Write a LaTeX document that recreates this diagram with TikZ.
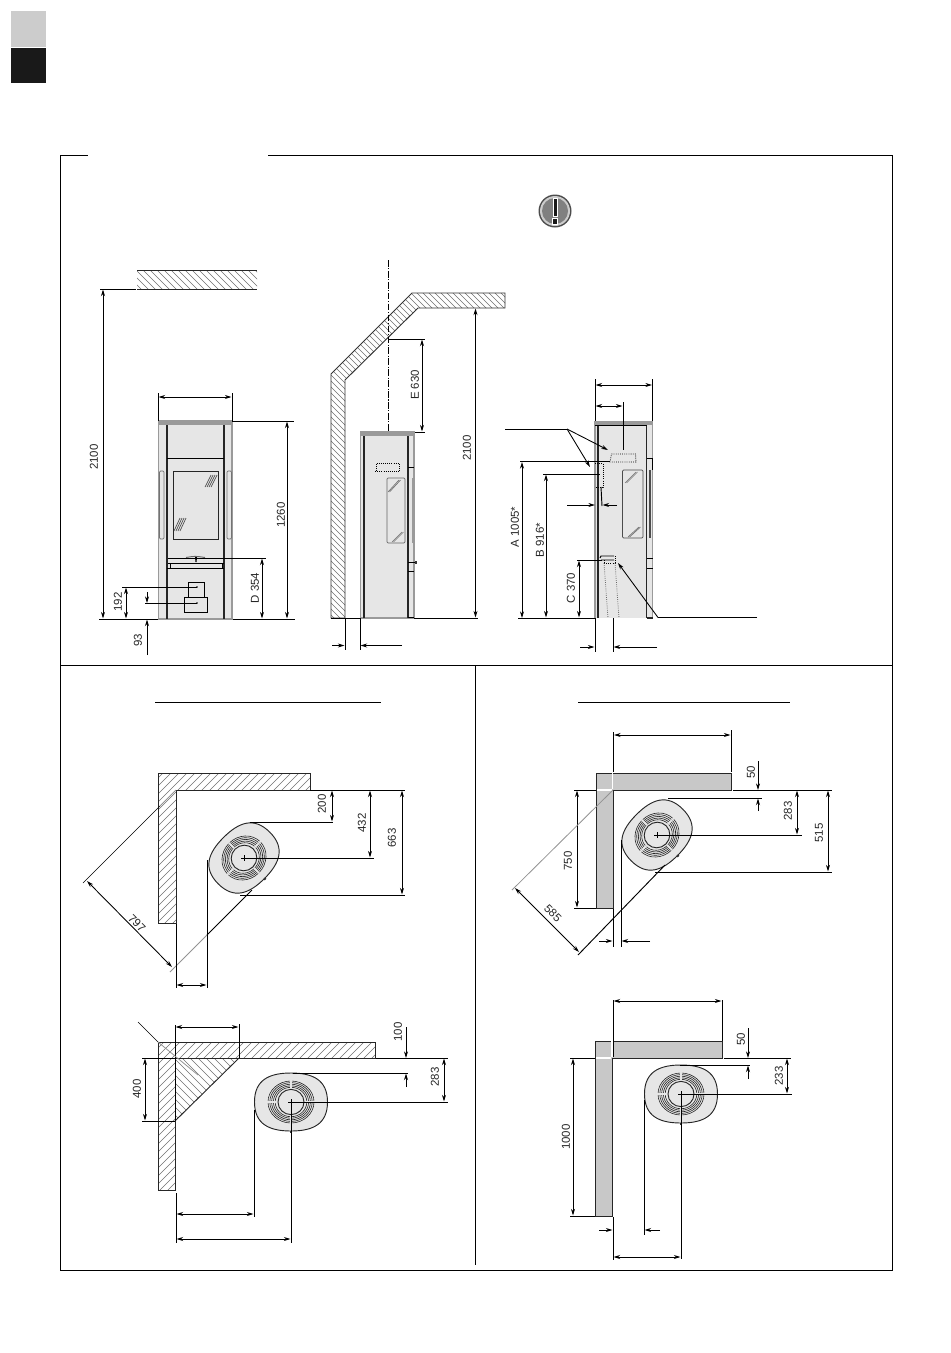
\documentclass[tikz,border=0pt]{standalone}
\usepackage{fontspec}
\setmainfont{Liberation Sans}
\usetikzlibrary{arrows.meta}
\definecolor{stovegray}{HTML}{E6E6E6}
\definecolor{wallgray}{HTML}{C8C8C8}
\definecolor{edgegray}{HTML}{9A9A9A}
\definecolor{hatchgray}{HTML}{707070}
\tikzset{
  dim/.style={line width=.65pt,{Stealth[length=5pt,width=3pt]}-{Stealth[length=5pt,width=3pt]}},
  dimtip/.style={line width=.65pt,-{Stealth[length=5pt,width=3pt]}},
  ext/.style={line width=.7pt},
  thinline/.style={line width=.5pt},
  grayline/.style={line width=.6pt,draw=gray!85},
  lab/.style={font=\fontsize{8.6}{10}\selectfont,text=black!85,rotate=90,inner sep=0pt},
  hatchline/.style={line width=.4pt,draw=hatchgray},
  wallout/.style={line width=.7pt,draw=black!85},
  stovebody/.style={fill=stovegray,draw=edgegray,line width=.8pt},
  heavy/.style={line width=1.1pt,draw=black!85},
  dotline/.style={line width=.6pt,densely dotted},
  glassbox/.style={draw=black!70,line width=.5pt,rounded corners=.8pt}
}
% x-y=k lines
\newcommand\hatchback[4]{\begin{scope}\clip #1;
  \foreach \i in {0,...,#4}{\pgfmathsetmacro\kk{#2+#3*\i}
    \draw[hatchline] ({\kk},0) -- ({\kk+1353},1353);}\end{scope}}
% x+y=k lines
\newcommand\hatchfwd[4]{\begin{scope}\clip #1;
  \foreach \i in {0,...,#4}{\pgfmathsetmacro\kk{#2+#3*\i}
    \draw[hatchline] ({\kk},0) -- ({\kk-1353},1353);}\end{scope}}
\newcommand\planstove[3]{%
  \begin{scope}[shift={(#1,#2)},rotate=#3]
    \draw[fill=stovegray,draw=black!85,line width=.7pt]
      (-36.5,0) .. controls (-36.5,-22) and (-22,-29) .. (0,-29)
      .. controls (22,-29) and (36.5,-22) .. (36.5,0)
      .. controls (36.5,22) and (22,29) .. (0,29)
      .. controls (-22,29) and (-36.5,22) .. (-36.5,0) -- cycle;
    \fill[black!80] (-1.2,28.5) rectangle (1.2,30.5);
    \foreach \rx/\ry in {23/21,21.2/19.4,19.4/17.8,17.6/16.2,15.8/14.7}
      \draw[line width=.45pt,draw=black!85] (0,0) ellipse [x radius=\rx,y radius=\ry];
    \fill[stovegray] (-.8,-22) rectangle (.8,-14) (-.8,14) rectangle (.8,22);
    \fill[stovegray] (-24,-.8) rectangle (-15,.8) (15,-.8) rectangle (24,.8);
    \draw[line width=.7pt,draw=black!85] (0,0) ellipse [x radius=13,y radius=12.6];
  \end{scope}
  \draw[line width=.6pt] (#1-3,#2) -- (#1+3,#2) (#1,#2-3) -- (#1,#2+3);}
\begin{document}
\begin{tikzpicture}[x=.75pt,y=-.75pt]
\useasboundingbox (0,0) rectangle (950,1353);
% page tabs
\fill[black!20] (11,11) rectangle (46,47);
\fill[black!90] (11,48) rectangle (46,83);
% frame
\draw[ext] (268,155) -- (892,155) -- (892,1270) -- (60,1270) -- (60,155) -- (88,155);
\draw[ext] (60,665) -- (892,665);
\draw[ext] (475,665) -- (475,1265);
\draw[ext] (155,702) -- (381,702);
\draw[ext] (578,702) -- (790,702);
% warning icon
\fill[black!70] (555,211) circle [radius=16.5];
\fill[black!20] (555,211) circle [radius=15];
\fill[black!50] (555,211) circle [radius=13];
\fill[white] (552.5,197.5) rectangle (557.5,217);
\fill[black!90] (553.5,198.5) rectangle (556.5,216);
\fill[white] (552,218) rectangle (558,225);
\fill[black!90] (553,219) rectangle (557,224);

%%%% FRONT VIEW
\hatchback{(137,270) rectangle (257,289)}{-155}{7}{21}
\draw[wallout] (137,270) -- (257,270) (137,289) -- (257,289);
\draw[ext] (100,289) -- (136,289);
\draw[dim] (103,289.5) -- (103,618.5);
\node[lab] (fh) at (94,457) {2100};
\draw[ext] (99,619) -- (158,619);
% body
\draw[stovebody] (158.5,421) rectangle (232,619);
\fill[edgegray] (158,421) rectangle (232.5,425);
\fill[stovegray] (167,425) rectangle (224,568);
\draw[heavy] (167,425) -- (167,619) (224,425) -- (224,619);
\draw[ext] (167,458) -- (224,458) (167,568) -- (224,568);
\draw[line width=.7pt,draw=black!85] (173,471) rectangle (218,539);
\foreach \a in {0,2,4,6}{\draw[thinline,draw=black!70] (205+\a,487) -- (211+\a,475);}
\foreach \a in {0,2,4,6}{\draw[thinline,draw=black!70] (174+\a,531) -- (180+\a,518);}
\draw[glassbox,draw=black!55,fill=stovegray] (159.5,471) rectangle (164,539);
\draw[glassbox,draw=black!55,fill=stovegray] (227,471) rectangle (231.5,539);
\draw[ext] (168,558) -- (224,558) (168,563) -- (224,563);
\draw[ext] (170,563) -- (170,568) (222,563) -- (222,568);
\draw[ext,draw=black!60] (186,557.5) .. controls (195,556) .. (205,557.5);
\fill[black] (195,557) -- (197,557) -- (196.5,562) -- (195.5,562) -- cycle;
\draw[ext,fill=stovegray] (188,582) rectangle (204,597);
\draw[ext,fill=stovegray] (184,597) rectangle (207,612);
% dims
\draw[ext] (158,393) -- (158,421) (232,393) -- (232,421);
\draw[dim] (158.5,397) -- (231.5,397);
\draw[ext] (232,421) -- (294,421);
\draw[dim] (287,421.5) -- (287,618.5);
\draw[ext] (233,619) -- (295,619);
\node[lab] (f1260) at (281,515) {1260};
\draw[ext] (224,558) -- (266,558);
\draw[dim] (262,558.5) -- (262,618.5);
\node[lab] (fd) at (255,588) {D 354};
\draw[ext] (122,587) -- (197,587);
\draw[dim] (126,587.5) -- (126,618.5);
\node[lab] (f192) at (118,602) {192};
\draw[ext] (145,603) -- (197,603);
\fill (197,603) circle [radius=.9] (197,587) circle [radius=.9];
\draw[dimtip] (147,592) -- (147,603);
\draw[dimtip] (147,655) -- (147,619.5);
\node[lab] (f93) at (138,640) {93};

%%%% SIDE VIEW
\path[fill=white] (331,618) -- (331,374) -- (412,293) -- (505,293) -- (505,308) -- (418,308) -- (345,380) -- (345,618) -- cycle;
\hatchback{(331,618) -- (331,374) -- (412,293) -- (505,293) -- (505,308) -- (418,308) -- (345,380) -- (345,618) -- cycle}{-290}{6}{84}
\draw[line width=.7pt,draw=black!80] (345,618) -- (331,618) -- (331,374) -- (412,293) -- (505,293) -- (505,308) -- (418,308) -- (345,380) -- cycle;
\draw[line width=.6pt,dash pattern=on 5pt off 1.2pt on .8pt off 1.2pt] (388,260) -- (388,462);
\draw[ext] (388,339) -- (425,339);
\draw[dim] (422,339.5) -- (422,431.5);
\node[lab] (se) at (415,385) {E 630};
\draw[ext] (414,432) -- (425,432);
\draw[stovebody] (360.5,432) rectangle (414,618);
\fill[edgegray] (360,432) rectangle (414.5,436);
\draw[heavy,line width=.9pt] (364,436) -- (364,618) (408,436) -- (408,618);
\draw[ext] (408,617.5) -- (414,617.5);
\draw[dotline] (376,471) -- (376,463) -- (399,463) -- (399,471);
\draw[dotline] (375,471) -- (400,471);
\draw[glassbox,draw=black!60] (387,478) rectangle (405,543);
\foreach \o in {0,1.5}{\draw[thinline,draw=black!55] (388+\o,492) -- (399+\o,480);
  \draw[thinline,draw=black!55] (392+\o,542) -- (402+\o,532);}
\draw[line width=1pt,draw=edgegray] (412.5,478) -- (412.5,543);
\draw[ext] (408,467) -- (414,467) (408,571) -- (414,571) (408,562) -- (416,562);
\fill[black!80] (415,561) rectangle (417,564);
\draw[ext] (331,618) -- (360,618);
\draw[ext] (414,618) -- (478,618);
\draw[dim] (475.5,308.5) -- (475.5,617.5);
\node[lab] (s2100) at (467,448) {2100};
\draw[ext] (345,618) -- (345,650) (360,618) -- (360,650);
\draw[dimtip] (332,645.5) -- (344.5,645.5);
\draw[dimtip] (402,645.5) -- (360.5,645.5);

%%%% BACK / SIDE VIEW
\fill[stovegray] (595,421) rectangle (647,618);
\draw[edgegray,line width=.8pt] (595,421) -- (595,618) -- (596,618);
\fill[edgegray] (594.5,421) rectangle (653,425);
\draw[line width=.8pt,draw=black!85] (598,425) -- (598,618) (646.5,425) -- (646.5,618);
\draw[ext] (595,425) -- (653,425);
\fill[stovegray] (647,425) rectangle (652.5,618);
\draw[line width=.7pt,draw=edgegray] (652.5,425) -- (652.5,618);
\draw[ext] (647,458) -- (652,458) -- (652,470) (647,558) -- (653,558) (647,568) -- (653,568);
\draw[line width=.8pt,draw=black!70] (650,470) -- (650,538);
\draw[line width=1.2pt,draw=black!85] (647,618) -- (653,618);
\draw[ext] (595,379) -- (595,421) (652.5,379) -- (652.5,421);
\draw[dim] (595.5,385) -- (652,385);
\draw[dim] (595.5,406) -- (622.5,406);
\draw[ext] (623,402) -- (623,450);
\draw[dotline] (611.5,454) -- (635.5,454) -- (636,462) -- (610,462) -- (611.5,454);
\draw[ext] (520,461.5) -- (610,461.5);
\draw[dim] (522,462) -- (522,618);
\node[lab] (ba) at (515,527) {A 1005*};
\draw[dotline] (595,463) -- (603,463) -- (603,487) -- (595,487);
\draw[ext] (543,474) -- (600,474);
\draw[dim] (546,474.5) -- (546,617.5);
\node[lab] (bb) at (540,540) {B 916*};
\draw[ext] (577,560) -- (602,560);
\draw[dim] (579,560.5) -- (579,617.5);
\node[lab] (bc) at (571,588) {C 370};
\draw[ext] (518,618) -- (596,618);
\draw[ext] (600,558) -- (601,556) -- (614,556) (601,560) -- (614,560);
\draw[dotline] (604,563) -- (615,563) (615,556) -- (615,563) (604,560) -- (604,563);
\draw[dotline,draw=black!60] (604,563) -- (608,618) (615,563) -- (619,618);
\draw[glassbox] (622.5,470) rectangle (643,538);
\foreach \o in {0,1.5}{\draw[thinline,draw=black!55] (625+\o,483) -- (636+\o,472);
  \draw[thinline,draw=black!55] (628+\o,537) -- (639+\o,527);}
\coordinate (lt) at (567,429);
\draw[thinline] (505,429) -- (lt);
\draw[dimtip] (lt) -- (608,450);
\draw[dimtip] (lt) -- (590,467);
\coordinate (lb) at (658,617.5);
\draw[thinline] (757,617.5) -- (lb);
\draw[dimtip] (lb) -- (618,563);
\draw[ext] (601,487) -- (602,506);
\draw[dimtip] (567,505) -- (595,505);
\draw[dimtip] (617,505) -- (602.5,505);
\draw[ext] (595,618) -- (595,652) (613,618) -- (613,652);
\draw[dimtip] (580,647) -- (594.5,647);
\draw[dimtip] (657,647) -- (613.5,647);

%%%% PLAN A
\hatchfwd{(158,773) -- (310,773) -- (310,790) -- (176,790) -- (176,923) -- (158,923) -- cycle}{928}{8}{22}
\draw[wallout] (158,773) -- (310,773) -- (310,790) -- (176,790) -- (176,923) -- (158,923) -- cycle;
\planstove{244}{858}{45}
\draw[ext] (310,790) -- (405,790);
\draw[ext] (250,822) -- (333,822);
\draw[dim] (332,790.5) -- (332,821.5);
\node[lab] (a200) at (322,804) {200};
\draw[ext] (244,858) -- (374,858);
\draw[dim] (370,790.5) -- (370,857.5);
\node[lab] (a432) at (362,823) {432};
\draw[ext] (240,895) -- (405,895);
\draw[dim] (402,790.5) -- (402,894.5);
\node[lab] (a663) at (392,838) {663};
\draw[thinline] (83,883) -- (160,806);
\draw[grayline] (160,806) -- (176,790);
\draw[ext] (252,890) -- (207,935);
\draw[grayline] (207,935) -- (170,972);
\draw[dim] (87,881) -- (172,967);
\node[lab,rotate=-135] (a797) at (137,923) {797};
\draw[ext] (176,924) -- (176,988) (207,860) -- (207,988);
\draw[dim] (176.5,985) -- (206.5,985);

%%%% PLAN B
\hatchfwd{(158,1042) -- (375,1042) -- (375,1058) -- (175,1058) -- (175,1190) -- (158,1190) -- cycle}{1198}{8}{30}
\hatchback{(175,1058) -- (239,1058) -- (175,1121) -- cycle}{-948}{8}{17}
\draw[wallout] (158,1042) -- (375,1042) -- (375,1058) -- (175,1058) -- (175,1190) -- (158,1190) -- cycle;
\draw[wallout] (239,1058) -- (175,1121);
\draw[ext] (142,1058) -- (175,1058) (376,1058) -- (448,1058);
\draw[ext] (175,1025) -- (175,1121) (239,1024) -- (239,1058);
\draw[dim] (175.5,1027) -- (238.5,1027);
\draw[thinline] (138,1022) -- (158,1042);
\draw[grayline] (158,1042) -- (198,1075);
\draw[ext] (142,1121) -- (175,1121);
\draw[dim] (145,1058.5) -- (145,1120.5);
\node[lab] (b400) at (137,1089) {400};
\planstove{291}{1102}{0}
\draw[ext] (293,1073) -- (408,1073);
\draw[dimtip] (406,1027) -- (406,1058);
\draw[dimtip] (406,1087) -- (406,1073.5);
\node[lab] (b100) at (398,1032) {100};
\draw[ext] (291,1102) -- (448,1102);
\draw[dim] (444,1058.5) -- (444,1101.5);
\node[lab] (b283) at (435,1077) {283};
\draw[ext] (254,1110) -- (254,1217) (291,1102) -- (291,1243) (176,1193) -- (176,1243);
\draw[dim] (176.5,1214) -- (253.5,1214);
\draw[dim] (176.5,1239) -- (290.5,1239);

%%%% PLAN C
\fill[wallgray] (596,773) -- (731,773) -- (731,790) -- (613,790) -- (613,908) -- (596,908) -- cycle;
\draw[wallout] (596,773) -- (731,773) -- (731,790) -- (613,790) -- (613,908) -- (596,908) -- cycle;
\draw[white,line width=.8pt] (612.5,773) -- (612.5,789) (597,790) -- (612,790);
\draw[ext] (613.5,732) -- (613.5,772) (731,730) -- (731,772);
\draw[dim] (614,735) -- (730.5,735);
\draw[ext] (574,790) -- (596,790) (733,790) -- (832,790);
\draw[dim] (577,790.5) -- (577,907.5);
\draw[ext] (574,908) -- (596,908);
\node[lab] (c750) at (568,861) {750};
\planstove{657}{835}{45}
\draw[ext] (668,798) -- (762,798);
\draw[dimtip] (758,761) -- (758,790);
\draw[dimtip] (758,811) -- (758,798.5);
\node[lab] (c50) at (751,772) {50};
\draw[ext] (657,835) -- (802,835);
\draw[dim] (797,790.5) -- (797,834.5);
\node[lab] (c283) at (788,811) {283};
\draw[ext] (655,872) -- (832,872);
\draw[dim] (828,790.5) -- (828,871.5);
\node[lab] (c515) at (819,833) {515};
\draw[grayline] (613,790) -- (512,890);
\draw[ext] (665,865) -- (578,955);
\draw[dim] (515,888) -- (579,952);
\node[lab,rotate=-135] (c585) at (553,913) {585};
\draw[ext] (613,909) -- (613,947) (621,840) -- (621,947);
\draw[dimtip] (599,941) -- (612.5,941);
\draw[dimtip] (650,941) -- (621.5,941);

%%%% PLAN D
\fill[wallgray] (595,1041) -- (722,1041) -- (722,1058) -- (612,1058) -- (612,1216) -- (595,1216) -- cycle;
\draw[wallout] (595,1041) -- (722,1041) -- (722,1058) -- (612,1058) -- (612,1216) -- (595,1216) -- cycle;
\draw[white,line width=.8pt] (612,1041) -- (612,1057) (596,1058) -- (611,1058);
\draw[ext] (613,1000) -- (613,1057) (722,1000) -- (722,1041);
\draw[dim] (613.5,1001) -- (721.5,1001);
\draw[ext] (570,1058) -- (595,1058) (724,1058) -- (791,1058);
\draw[dim] (573,1058.5) -- (573,1215.5);
\draw[ext] (570,1216) -- (595,1216);
\node[lab] (d1000) at (566,1137) {1000};
\planstove{681}{1094}{0}
\draw[ext] (680,1065) -- (750,1065);
\draw[dimtip] (748,1028) -- (748,1058);
\draw[dimtip] (748,1079) -- (748,1065.5);
\node[lab] (d50) at (741,1039) {50};
\draw[ext] (680,1094) -- (792,1094);
\draw[dim] (787,1058.5) -- (787,1093.5);
\node[lab] (d233) at (779,1076) {233};
\draw[ext] (644,1100) -- (644,1235) (681,1094) -- (681,1259) (613,1217) -- (613,1260);
\draw[dimtip] (599,1230) -- (612.5,1230);
\draw[dimtip] (660,1230) -- (644.5,1230);
\draw[dim] (613.5,1257) -- (680.5,1257);
\end{tikzpicture}
\end{document}
